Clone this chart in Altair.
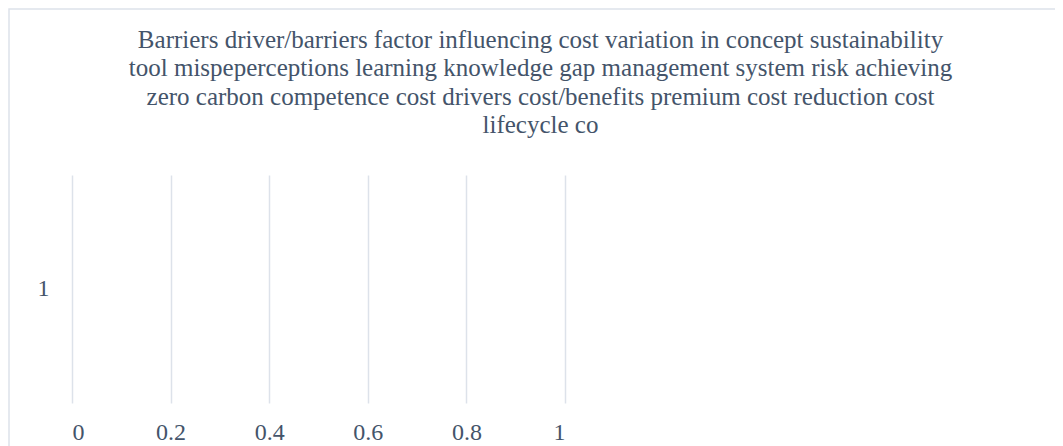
import altair as alt
import pandas as pd

categories = ["1"]
values = [0]
title_lines = [
    "Barriers driver/barriers factor influencing cost variation in concept sustainability",
    "tool mispeperceptions learning knowledge gap management system risk  achieving",
    "zero carbon competence  cost drivers cost/benefits premium cost reduction cost",
    "lifecycle co",
]
x_ticks = [0, 0.2, 0.4, 0.6, 0.8, 1]

df = pd.DataFrame({"cat": categories, "val": values})

FONT = "Liberation Serif"
TXT = "#44546a"
GRID = "#dde2ea"

frame = alt.Chart(pd.DataFrame({"d": [0]})).mark_rect(
    fill="transparent", stroke="#dde2ea", strokeWidth=1.5
).encode(
    x=alt.value(-63), x2=alt.value(1100),
    y=alt.value(-166), y2=alt.value(400),
)

bars = alt.Chart(df).mark_bar(color="#4472c4").encode(
    x=alt.X("val:Q", scale=alt.Scale(domain=[0, 1], nice=False),
            axis=alt.Axis(values=x_ticks, title=None, grid=True, gridColor=GRID,
                          gridWidth=1.5, domain=False, ticks=False,
                          labelFont=FONT, labelFontSize=24, labelColor=TXT,
                          labelPadding=17, labelExpr="format(datum.value, '')")),
    y=alt.Y("cat:N", axis=alt.Axis(title=None, domain=False, ticks=False,
                                   labelFont=FONT, labelFontSize=24, labelColor=TXT,
                                   labelPadding=23)),
)

chart = alt.layer(frame, bars).properties(
    width=493, height=228,
    background="white",
    title=alt.TitleParams(text=title_lines, font=FONT, fontSize=25, fontWeight="normal",
                          color=TXT, lineHeight=28.5, anchor="middle", dx=222,
                          frame="group", offset=-130),
    autosize=alt.AutoSizeParams(type="none"),
    padding={"left": 64, "top": 167, "right": 490, "bottom": 60},
).configure_view(stroke=None)

chart.save("out.html", embed_options={"renderer": "svg", "actions": False})
